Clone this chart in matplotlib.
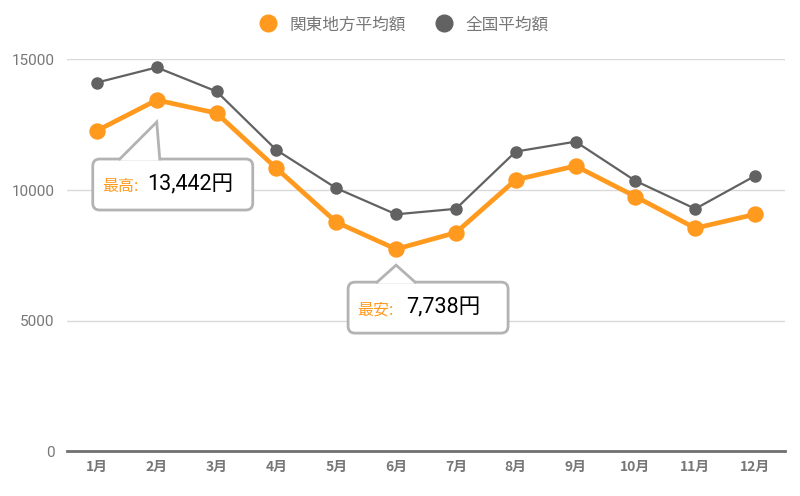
import matplotlib
matplotlib.use("Agg")
import matplotlib.pyplot as plt
import matplotlib.transforms as mtransforms
from matplotlib.patches import FancyBboxPatch, Polygon
from matplotlib.lines import Line2D

plt.rcParams['font.family'] = ['Noto Sans CJK JP', 'DejaVu Sans']
num_font = ['Roboto', 'Noto Sans CJK JP']

months = ["1月", "2月", "3月", "4月", "5月", "6月", "7月", "8月", "9月", "10月", "11月", "12月"]
kanto = [12270, 13442, 12940, 10830, 8770, 7738, 8370, 10390, 10920, 9750, 8540, 9070]
national = [14110, 14690, 13770, 11530, 10070, 9070, 9280, 11470, 11850, 10350, 9280, 10540]
yticks = [0, 5000, 10000, 15000]
series_names = ["関東地方平均額", "全国平均額"]

orange = "#FF9A1F"
gray = "#626262"
label_gray = "#777777"

fig = plt.figure(figsize=(8, 4.96), dpi=100)
ax = fig.add_axes([67 / 800, 1 - 451.4 / 496, 718 / 800, (451.4 - 59.3) / 496])

x = list(range(len(months)))
ax.plot(x, national, color=gray, linewidth=1.6, marker="o", markersize=8, zorder=3)
ax.plot(x, kanto, color=orange, linewidth=3.4, marker="o", markersize=10.8, zorder=4)

ax.set_xlim(-0.5, len(months) - 0.5)
ax.set_ylim(0, 15000)
ax.set_yticks(yticks)
ax.set_yticklabels([str(v) for v in yticks], fontsize=11, color=label_gray, family=num_font)
ax.set_xticks(x)
ax.set_xticklabels(months, fontsize=10, color=label_gray, fontweight="bold")
ax.tick_params(length=0)
ax.tick_params(axis="y", pad=9)
ax.tick_params(axis="x", pad=6)
for v in yticks[1:]:
    ax.axhline(v, color="#d9d9d9", linewidth=1, zorder=1)
for s in ["top", "right", "left"]:
    ax.spines[s].set_visible(False)
ax.spines["bottom"].set_color("#707070")
ax.spines["bottom"].set_linewidth(2)


def callout(i, vals, label, box, tri, txt_dx):
    # box/tri are pixel offsets from the data point (y up)
    t = mtransforms.IdentityTransform() + mtransforms.ScaledTranslation(i, vals[i], ax.transData)
    l, r, top, bot = box
    fb = FancyBboxPatch((l, bot), r - l, top - bot, boxstyle="round,pad=0,rounding_size=7",
                        transform=t, facecolor="white", edgecolor="#b3b3b3", linewidth=2,
                        zorder=6, clip_on=False)
    ax.add_patch(fb)
    (bl, br), tip = tri
    ax.add_patch(Polygon([(bl, top - 1.5), tip, (br, top - 1.5)], closed=True, transform=t,
                         facecolor="white", edgecolor="none", zorder=7, clip_on=False))
    ax.add_line(Line2D([bl, tip[0], br], [top, tip[1], top], transform=t, color="#b3b3b3",
                       linewidth=2, zorder=7, clip_on=False, solid_joinstyle="miter"))
    cy = (top + bot) / 2
    ax.text(l + 9, cy - 2, label + ":", transform=t, fontsize=11.5, color=orange,
            ha="left", va="center", zorder=8)
    ax.text(l + txt_dx, cy, f"{vals[i]:,}円", transform=t, fontsize=15.5, color="black",
            ha="left", va="center", zorder=8, family=num_font)


hi = kanto.index(max(kanto))
lo = kanto.index(min(kanto))
callout(hi, kanto, "最高", (-64, 96, -59, -110), ((-37, 3), (0, -22)), 54)
callout(lo, kanto, "最安", (-48, 112, -33, -84), ((-19, 19), (0, -16)), 58)

handles = [Line2D([], [], color=c, marker="o", linestyle="none", markersize=12)
           for c in [orange, gray]]
fig.legend(handles, series_names, loc="center", bbox_to_anchor=(0.5, 0.95), ncol=2,
           frameon=False, fontsize=12, labelcolor=label_gray, handletextpad=0.3,
           columnspacing=1.3)

fig.savefig("out.png", dpi=100)
